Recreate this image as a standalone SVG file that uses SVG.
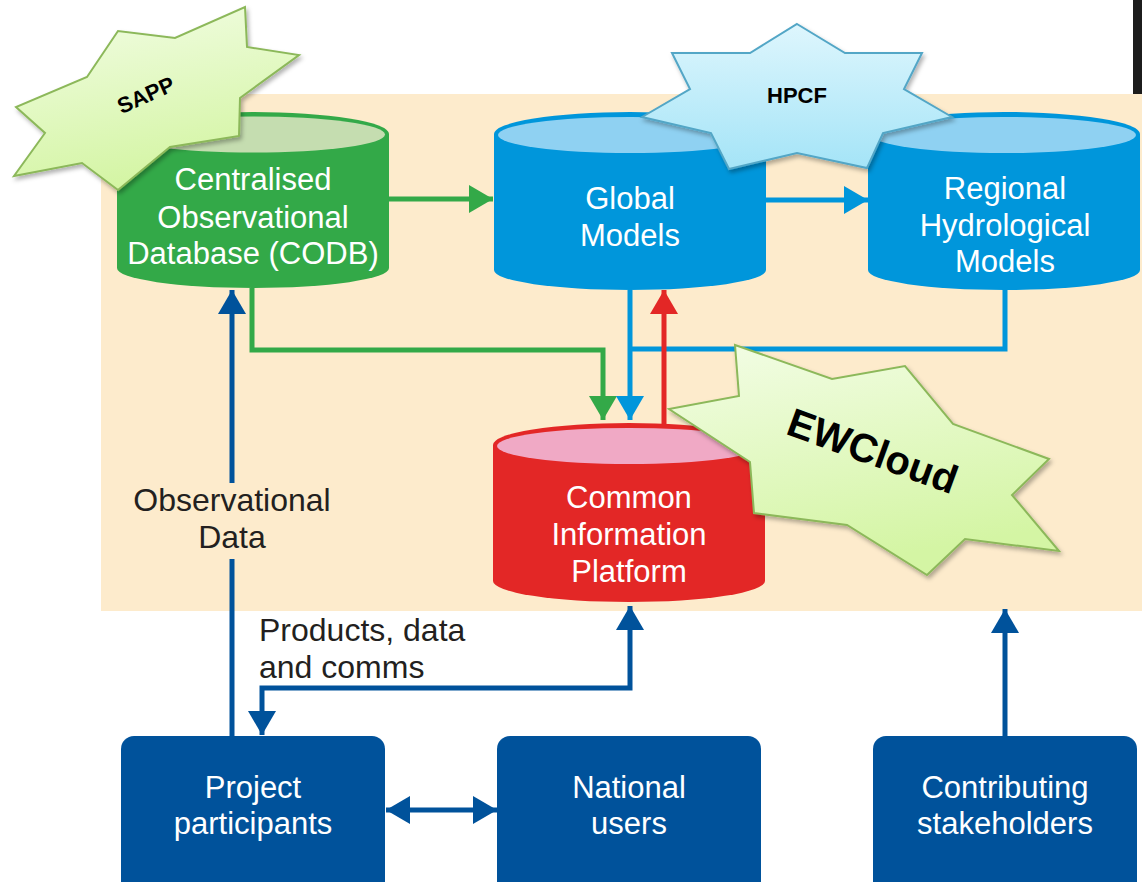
<svg xmlns="http://www.w3.org/2000/svg" width="1142" height="882" viewBox="0 0 1142 882">
  <defs>
    <style>
      .lbl { font-family: "Liberation Sans", Arial, Helvetica, sans-serif; font-size: 31px; text-anchor: middle; }
      .white { fill: #ffffff; }
      .dark { fill: #231f20; font-size: 32px; }
      .star-t { font-family: "Liberation Sans", Arial, Helvetica, sans-serif; font-weight: bold; fill: #000000; text-anchor: middle; }
      .ln { fill: none; stroke-width: 5; }
      .g { stroke: #33a948; }
      .b { stroke: #0096db; }
      .r { stroke: #e32726; }
      .d { stroke: #00529b; }
      .box { fill: #00529b; }
      .gstar { fill: url(#greenGrad); stroke: #8cb85a; stroke-width: 2; filter: url(#shadow); }
      .bstar { fill: url(#blueGrad); stroke: #52a6c6; stroke-width: 2; filter: url(#shadow); }
    </style>
    <linearGradient id="greenGrad" x1="0" y1="0" x2="0.3" y2="1">
      <stop offset="0" stop-color="#f3fde6"/>
      <stop offset="1" stop-color="#d4f5a4"/>
    </linearGradient>
    <linearGradient id="blueGrad" x1="0" y1="0" x2="0" y2="1">
      <stop offset="0" stop-color="#def6fd"/>
      <stop offset="1" stop-color="#a4e4f7"/>
    </linearGradient>
    <filter id="shadow" x="-10%" y="-10%" width="130%" height="130%">
      <feDropShadow dx="2" dy="3" stdDeviation="2" flood-color="#000" flood-opacity="0.3"/>
    </filter>
    <marker id="mG" markerUnits="userSpaceOnUse" markerWidth="24" markerHeight="28" refX="24" refY="14" orient="auto">
      <path d="M0,0 L24,14 L0,28 Z" fill="#33a948"/>
    </marker>
    <marker id="mB" markerUnits="userSpaceOnUse" markerWidth="24" markerHeight="28" refX="24" refY="14" orient="auto">
      <path d="M0,0 L24,14 L0,28 Z" fill="#0096db"/>
    </marker>
    <marker id="mR" markerUnits="userSpaceOnUse" markerWidth="24" markerHeight="28" refX="24" refY="14" orient="auto">
      <path d="M0,0 L24,14 L0,28 Z" fill="#e32726"/>
    </marker>
    <marker id="mD" markerUnits="userSpaceOnUse" markerWidth="24" markerHeight="28" refX="24" refY="14" orient="auto">
      <path d="M0,0 L24,14 L0,28 Z" fill="#00529b"/>
    </marker>
    <marker id="mDs" markerUnits="userSpaceOnUse" markerWidth="24" markerHeight="28" refX="0" refY="14" orient="auto">
      <path d="M24,0 L0,14 L24,28 Z" fill="#00529b"/>
    </marker>
  </defs>

  <rect x="0" y="0" width="1142" height="882" fill="#ffffff"/>
  <rect id="background-panel" x="101" y="94" width="1041" height="517" fill="#fdebcc"/>
  <rect x="1133" y="0" width="9" height="94" fill="#1c1c1c"/>

  <g id="connectors">
    <path class="ln g" d="M389,199 H493" marker-end="url(#mG)"/>
    <path class="ln b" d="M766,200 H868" marker-end="url(#mB)"/>
    <path class="ln g" d="M252,288 V350 H603 V420" marker-end="url(#mG)"/>
    <path class="ln b" d="M1005,290 V349 H630"/>
    <path class="ln b" d="M630,290 V420" marker-end="url(#mB)"/>
    <path class="ln r" d="M664,424 V290" marker-end="url(#mR)"/>
    <path class="ln d" d="M232,736 V559"/>
    <path class="ln d" d="M232,483 V290" marker-end="url(#mD)"/>
    <path class="ln d" d="M630,606 V688 H262 V735" marker-start="url(#mDs)" marker-end="url(#mD)"/>
    <path class="ln d" d="M1005,736 V609" marker-end="url(#mD)"/>
    <path class="ln d" d="M386,810 H497" marker-start="url(#mDs)" marker-end="url(#mD)"/>
  </g>

  <g id="codb">
    <path d="M117,134 A136,22 0 0 1 389,134 L389,268 A136,20 0 0 1 117,268 Z" fill="#33a948"/>
    <ellipse cx="253" cy="134.5" rx="132" ry="18" fill="#c5ddb0"/>
    <text class="lbl white" x="253" y="190">Centralised</text>
    <text class="lbl white" x="253" y="228">Observational</text>
    <text class="lbl white" x="253" y="264">Database (CODB)</text>
  </g>

  <g id="global-models">
    <path d="M494,134 A136,22 0 0 1 766,134 L766,270 A136,20 0 0 1 494,270 Z" fill="#0096db"/>
    <ellipse cx="630" cy="135" rx="132" ry="18" fill="#8fd1f2"/>
    <text class="lbl white" x="630" y="209">Global</text>
    <text class="lbl white" x="630" y="246">Models</text>
  </g>

  <g id="regional-models">
    <path d="M868,134 A136,22 0 0 1 1140,134 L1140,270 A136,20 0 0 1 868,270 Z" fill="#0096db"/>
    <ellipse cx="1004" cy="135" rx="132" ry="18" fill="#8fd1f2"/>
    <text class="lbl white" x="1005" y="199">Regional</text>
    <text class="lbl white" x="1005" y="236">Hydrological</text>
    <text class="lbl white" x="1005" y="272">Models</text>
  </g>

  <g id="common-platform">
    <path d="M493,445 A136,22 0 0 1 765,445 L765,581 A136,21 0 0 1 493,581 Z" fill="#e32726"/>
    <ellipse cx="629" cy="446" rx="132" ry="18" fill="#f0a9c5"/>
    <text class="lbl white" x="629" y="508">Common</text>
    <text class="lbl white" x="629" y="545">Information</text>
    <text class="lbl white" x="629" y="582">Platform</text>
  </g>

  <g id="sapp">
    <polygon class="gstar" points="245,7 247,47 299,55 240,98 239,136 170,147 118,190 82,163 14,176 45,133 16,107 87,77 118,31 175,38"/>
    <text class="star-t" x="149" y="102" font-size="22" transform="rotate(-24 149 102)">SAPP</text>
  </g>

  <g id="hpcf">
    <polygon class="bstar" points="797,24 845,53 922,53 904,89 952,117 883,133 867,168 797,153 729,169 711,133 642,117 690,89 672,53 750,53"/>
    <text class="star-t" x="797" y="103" font-size="22">HPCF</text>
  </g>

  <g id="ewcloud">
    <polygon class="gstar" points="735,345 832,379 905,366 953,424 1049,459 1012,495 1059,551 965,539 927,575 847,525 754,513 750,462 669,409 739,396"/>
    <text class="star-t" x="868" y="464" font-size="40" transform="rotate(20 868 464)">EWCloud</text>
  </g>

  <g id="label-observational">
    <text class="lbl dark" x="232" y="511">Observational</text>
    <text class="lbl dark" x="232" y="548">Data</text>
  </g>

  <g id="label-products">
    <text class="lbl dark" x="259" y="641" style="text-anchor:start">Products, data</text>
    <text class="lbl dark" x="259" y="678" style="text-anchor:start">and comms</text>
  </g>

  <g id="project-participants">
    <rect class="box" x="121" y="736" width="264" height="160" rx="13"/>
    <text class="lbl white" x="253" y="798">Project</text>
    <text class="lbl white" x="253" y="834">participants</text>
  </g>

  <g id="national-users">
    <rect class="box" x="497" y="736" width="264" height="160" rx="13"/>
    <text class="lbl white" x="629" y="798">National</text>
    <text class="lbl white" x="629" y="834">users</text>
  </g>

  <g id="contributing-stakeholders">
    <rect class="box" x="873" y="736" width="264" height="160" rx="13"/>
    <text class="lbl white" x="1005" y="798">Contributing</text>
    <text class="lbl white" x="1005" y="834">stakeholders</text>
  </g>
</svg>
